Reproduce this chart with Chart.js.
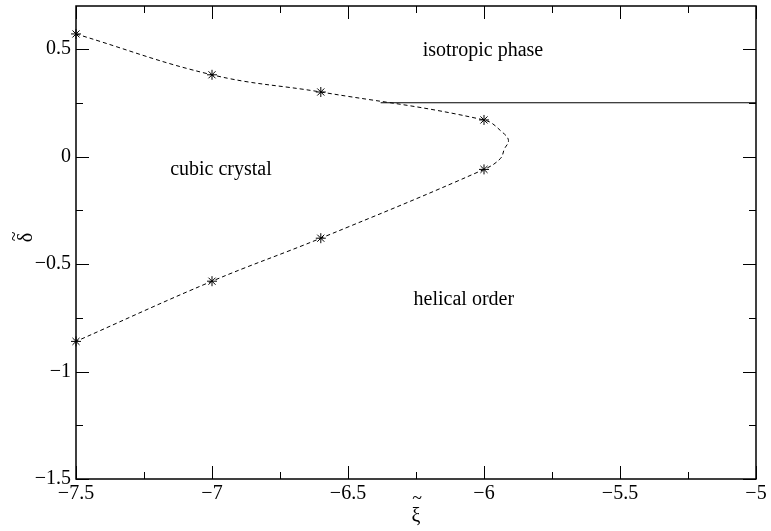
<!DOCTYPE html>
<html>
<head>
<meta charset="utf-8">
<script src="https://cdn.jsdelivr.net/npm/chart.js@4.4.0/dist/chart.umd.min.js"></script>
<style>
  html, body { margin: 0; padding: 0; background: #fff; }
  #wrap { width: 771px; height: 531px; }
</style>
</head>
<body>
<div id="wrap"><canvas id="phaseChart" width="771" height="531"></canvas></div>
<script>
// Phase boundary points (stars)
const boundaryXi = [-7.5, -7.0, -6.6, -6.0, -6.0, -6.6, -7.0, -7.5];
const boundaryDelta = [0.57, 0.38, 0.30, 0.17, -0.06, -0.38, -0.58, -0.86];

// Dashed guide curve through the stars (incl. the nose around xi = -5.91)
const curveXi = [-7.5, -7.0, -6.6, -6.0, -5.93, -5.91, -5.925, -5.94, -6.0, -6.6, -7.0, -7.5];
const curveDelta = [0.57, 0.38, 0.30, 0.17, 0.11, 0.074, 0.035, -0.01, -0.06, -0.38, -0.58, -0.86];

// Isotropic / helical boundary
const lineXi = [-6.38, -5.0];
const lineDelta = [0.25, 0.25];

// Axis ticks
const xTicks = [-7.5, -7, -6.5, -6, -5.5, -5];
const yTicks = [-1.5, -1, -0.5, 0, 0.5];

// Region labels
const regionLabels = ['isotropic phase', 'cubic crystal', 'helical order'];

const FONT = 'Liberation Serif, Times New Roman, serif';

function toPoints(xs, ys) {
    return xs.map((x, i) => ({ x: x, y: ys[i] }));
}

function fmt(v) {
    return v < 0 ? '\u2212' + Math.abs(v) : String(v);
}

// inward tick marks on all four sides, the frame, region labels and title tildes
const framePlugin = {
    id: 'framePlugin',
    afterDraw(chart, args, opts) {
        const { ctx, chartArea: a, scales: { x, y } } = chart;
        ctx.save();
        ctx.strokeStyle = '#000';

        ctx.lineWidth = 1;
        ctx.beginPath();
        const drawX = (v, len) => {
            const px = Math.round(x.getPixelForValue(v)) + 0.5;
            ctx.moveTo(px, a.bottom); ctx.lineTo(px, a.bottom - len);
            ctx.moveTo(px, a.top); ctx.lineTo(px, a.top + len);
        };
        const drawY = (v, len) => {
            const py = Math.round(y.getPixelForValue(v)) + 0.5;
            ctx.moveTo(a.left, py); ctx.lineTo(a.left + len, py);
            ctx.moveTo(a.right, py); ctx.lineTo(a.right - len, py);
        };
        x.ticks.forEach((t, i) => {
            drawX(t.value, 13);
            if (i < x.ticks.length - 1) drawX((t.value + x.ticks[i + 1].value) / 2, 7);
        });
        y.ticks.forEach((t) => {
            drawY(t.value, 13);
            if (t.value + 0.25 < y.max) drawY(t.value + 0.25, 7);
        });
        ctx.stroke();

        ctx.lineWidth = 1.5;
        ctx.strokeRect(a.left, a.top, a.right - a.left, a.bottom - a.top);

        ctx.fillStyle = '#000';
        ctx.font = '20px ' + FONT;
        ctx.textAlign = 'center';
        ctx.textBaseline = 'middle';
        opts.labels.forEach((l, i) => {
            ctx.fillText(regionLabels[i], x.getPixelForValue(l.x), y.getPixelForValue(l.y));
        });

        // tildes over the axis symbols
        ctx.font = '18px ' + FONT;
        const xt = x.options.title;
        const xcy = x.bottom - (Chart.helpers.toFont(xt.font).lineHeight / 2 + xt.padding.bottom);
        ctx.fillText('~', (a.left + a.right) / 2 + 1, xcy - 18);
        const yt = y.options.title;
        const ycx = y.left + Chart.helpers.toFont(yt.font).lineHeight / 2 + yt.padding.top;
        ctx.translate(ycx - 12, (y.top + y.bottom) / 2 - 6);
        ctx.rotate(-Math.PI / 2);
        ctx.fillText('~', 0, 0);
        ctx.restore();
    }
};

new Chart(document.getElementById('phaseChart'), {
    type: 'scatter',
    data: {
        datasets: [{
            label: 'curve',
            data: toPoints(curveXi, curveDelta),
            showLine: true,
            borderColor: '#000',
            borderWidth: 1,
            borderDash: [4, 3],
            tension: 0.4,
            pointRadius: 0,
            fill: false
        }, {
            label: 'boundary',
            data: toPoints(lineXi, lineDelta),
            showLine: true,
            borderColor: '#000',
            borderWidth: 1,
            pointRadius: 0,
            fill: false
        }, {
            label: 'stars',
            data: toPoints(boundaryXi, boundaryDelta),
            showLine: false,
            pointStyle: 'star',
            pointRadius: 5,
            pointBorderColor: '#000',
            pointBackgroundColor: '#000',
            pointBorderWidth: 1,
            clip: false
        }]
    },
    options: {
        responsive: false,
        animation: false,
        events: [],
        layout: { padding: { top: 0, right: 15, left: 0, bottom: 0 } },
        plugins: {
            legend: { display: false },
            tooltip: { enabled: false },
            framePlugin: {
                labels: [
                    { x: -6.004, y: 0.494 },
                    { x: -6.967, y: -0.063 },
                    { x: -6.074, y: -0.664 }
                ]
            }
        },
        scales: {
            x: {
                type: 'linear',
                min: -7.5,
                max: -5,
                afterBuildTicks: s => { s.ticks = xTicks.map(v => ({ value: v })); },
                afterFit: s => { s.height = 52; s.paddingLeft = 0; s.paddingRight = 0; },
                grid: { display: false, drawTicks: false },
                border: { display: false },
                ticks: {
                    padding: 3,
                    color: '#000',
                    font: { family: FONT, size: 20 },
                    maxRotation: 0,
                    callback: v => fmt(v)
                },
                title: {
                    display: true,
                    text: '\u03BE',
                    color: '#000',
                    font: { family: FONT, size: 20 },
                    padding: { top: 0, bottom: 2 }
                }
            },
            y: {
                type: 'linear',
                min: -1.5,
                max: 0.7,
                afterBuildTicks: s => { s.ticks = yTicks.map(v => ({ value: v })); },
                afterFit: s => { s.width = 76; s.paddingTop = 0; s.paddingBottom = 0; },
                grid: { display: false, drawTicks: false },
                border: { display: false },
                ticks: {
                    padding: 5,
                    color: '#000',
                    font: { family: FONT, size: 20 },
                    callback: v => fmt(v)
                },
                title: {
                    display: true,
                    text: '\u00A0\u00A0\u03B4',
                    color: '#000',
                    font: { family: FONT, size: 20 },
                    padding: { top: 15, bottom: 0 }
                }
            }
        }
    },
    plugins: [framePlugin]
});
</script>
</body>
</html>
